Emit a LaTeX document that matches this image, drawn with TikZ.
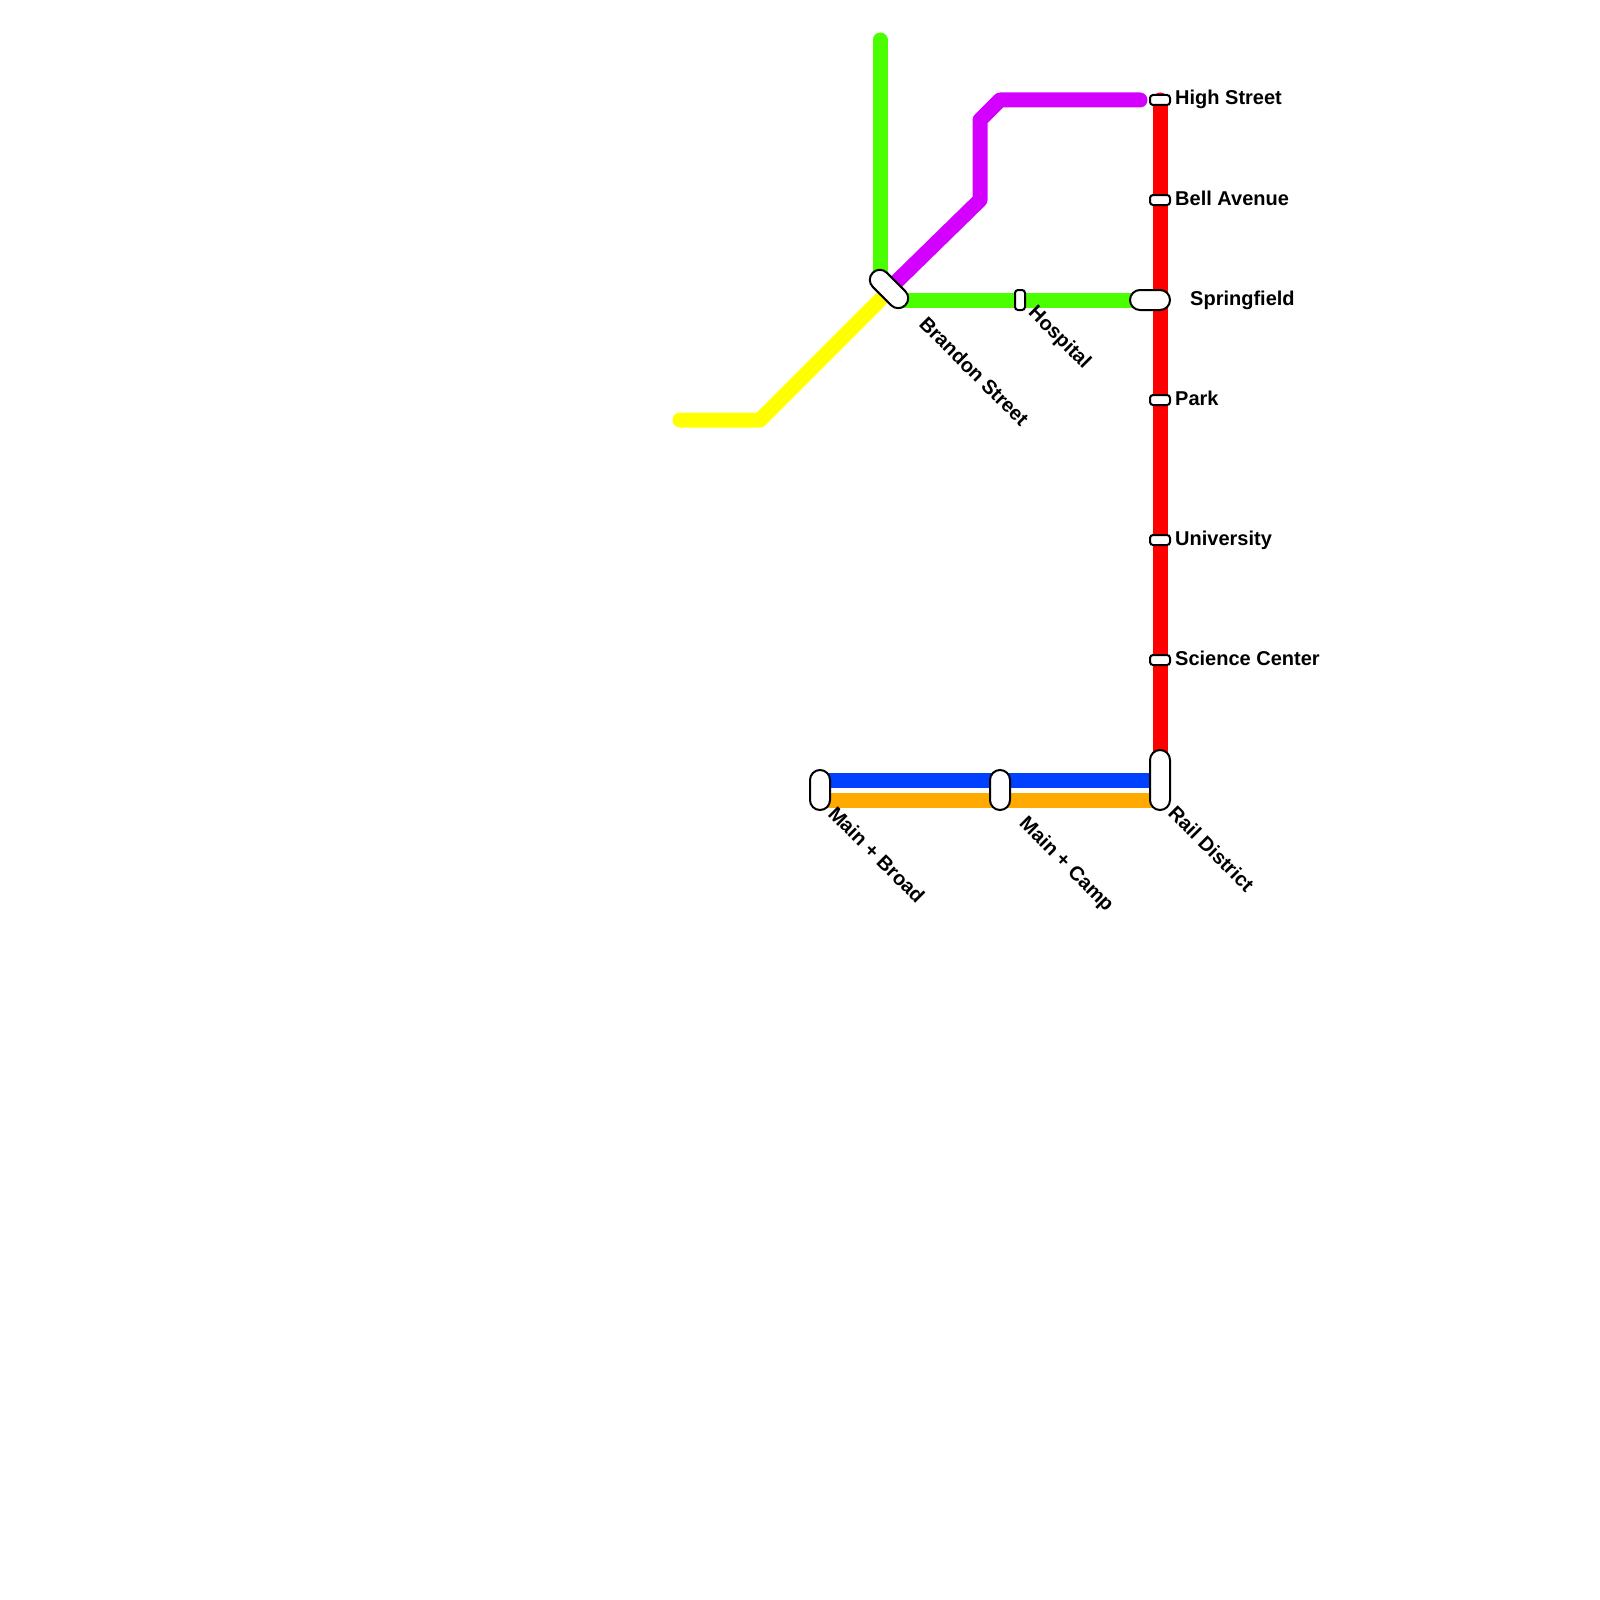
\documentclass[tikz,border=0pt]{standalone}
\usepackage{fontspec}
\setmainfont{Liberation Sans}
\usetikzlibrary{backgrounds}
\definecolor{redline}{HTML}{FF0000}
\definecolor{greenline}{HTML}{4CFF00}
\definecolor{purpleline}{HTML}{D400FF}
\definecolor{yellowline}{HTML}{FFFF00}
\definecolor{blueline}{HTML}{0040FF}
\definecolor{orangeline}{HTML}{FFAA00}
\tikzset{
  station/.style={draw=black,fill=white,line width=2pt,rounded corners=#1,inner sep=0pt,outer sep=0pt},
  route/.style={line width=15pt,line cap=round,line join=round},
  stopname/.style={font=\fontsize{20}{24}\bfseries,anchor=base west,inner sep=0pt},
  slantname/.style={stopname,anchor=west,rotate=-45}
}
\begin{document}
\begin{tikzpicture}[x=1pt,y=-1pt]
\useasboundingbox (0,0) rectangle (1600,1600);
\node[station=3pt,minimum width=20pt,minimum height=10pt] (high) at (1160,100) {};
\node[station=3pt,minimum width=20pt,minimum height=10pt] (bell) at (1160,200) {};
\node[station=10pt,minimum width=40pt,minimum height=20pt] (springfield) at (1150,300) {};
\node[station=3pt,minimum width=20pt,minimum height=10pt] (park) at (1160,400) {};
\node[station=3pt,minimum width=20pt,minimum height=10pt] (university) at (1160,540) {};
\node[station=3pt,minimum width=20pt,minimum height=10pt] (science) at (1160,660) {};
\node[station=10pt,minimum width=20pt,minimum height=60pt] (rail) at (1160,780) {};
\node[station=3pt,minimum width=10pt,minimum height=20pt] (hospital) at (1020,300) {};
\node[station=10pt,minimum width=46pt,minimum height=20pt,rotate=-45] (brandon) at (889,289) {};
\node[station=10pt,minimum width=20pt,minimum height=40pt] (broad) at (820,790) {};
\node[station=10pt,minimum width=20pt,minimum height=40pt] (camp) at (1000,790) {};
\coordinate (greentop) at (880,40);
\coordinate (greenfoot) at (880,280);
\coordinate (greenleft) at (900,300);
\coordinate (purplefoot) at (889,289);
\coordinate (purplea) at (980,200);
\coordinate (purpleb) at (980,120);
\coordinate (purplec) at (1000,100);
\coordinate (purpleend) at (1140,100);
\coordinate (yellowend) at (680,420);
\coordinate (yellowa) at (760,420);
\coordinate (yellowb) at (880,300);
\coordinate (blueleft) at (820,780);
\coordinate (blueright) at (1160,780);
\coordinate (orangeleft) at (820,800);
\coordinate (orangeright) at (1160,800);
\begin{scope}[on background layer]
\draw[route,redline] (high.center) -- (rail.center);
\draw[route,greenline] (greentop) -- (greenfoot);
\draw[route,greenline] (greenleft) -- (springfield.center);
\draw[route,purpleline] (purplefoot) -- (purplea) -- (purpleb) -- (purplec) -- (purpleend);
\draw[route,yellowline] (yellowend) -- (yellowa) -- (yellowb);
\draw[route,blueline,line cap=butt] (blueleft) -- (blueright);
\draw[route,orangeline,line cap=butt] (orangeleft) -- (orangeright);
\end{scope}
\node[stopname] (highname) at (1175,105) {High Street};
\node[stopname] (bellname) at (1175,205) {Bell Avenue};
\node[stopname] (springname) at (1190,305) {Springfield};
\node[stopname] (parkname) at (1175,405) {Park};
\node[stopname] (uniname) at (1175,545) {University};
\node[stopname] (sciencename) at (1175,665) {Science Center};
\node[slantname] (brandonname) at (923,320) {Brandon Street};
\node[slantname] (hospitalname) at (1031,310) {Hospital};
\node[slantname] (broadname) at (832,810) {Main + Broad};
\node[slantname] (campname) at (1022,821) {Main + Camp};
\node[slantname] (railname) at (1172,809) {Rail District};
\end{tikzpicture}
\end{document}
